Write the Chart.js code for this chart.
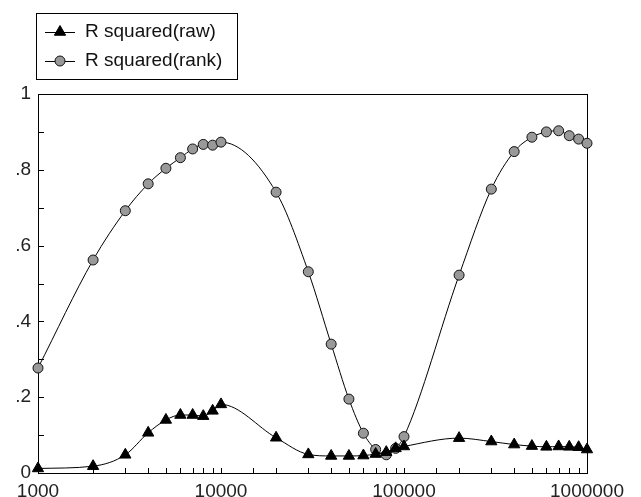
<!DOCTYPE html>
<html>
<head>
<meta charset="utf-8">
<title>R squared</title>
<script src="https://cdn.jsdelivr.net/npm/chart.js@4"></script>
<style>
  html, body { margin: 0; padding: 0; background: #fff; }
</style>
</head>
<body>
<canvas id="myChart" width="641" height="497"></canvas>
<script>
// data
const xValues = [1000, 2000, 3000, 4000, 5000, 6000, 7000, 8000, 9000,
  10000, 20000, 30000, 40000, 50000, 60000, 70000, 80000, 90000,
  100000, 200000, 300000, 400000, 500000, 600000, 700000, 800000, 900000, 1000000];
const rawValues = [0.012, 0.018, 0.048, 0.106, 0.140, 0.153, 0.153, 0.150, 0.164,
  0.181, 0.093, 0.049, 0.045, 0.045, 0.046, 0.050, 0.055, 0.065,
  0.070, 0.092, 0.083, 0.075, 0.071, 0.069, 0.070, 0.069, 0.068, 0.062];
const rankValues = [0.277, 0.562, 0.692, 0.763, 0.804, 0.832, 0.855, 0.867, 0.865,
  0.873, 0.741, 0.531, 0.340, 0.195, 0.105, 0.062, 0.048, 0.065,
  0.096, 0.522, 0.749, 0.848, 0.886, 0.900, 0.903, 0.890, 0.881, 0.870];
const seriesNames = ['R squared(raw)', 'R squared(rank)'];
const xTickLabels = ['1000', '10000', '100000', '1000000'];
const yTickLabels = ['0', '.2', '.4', '.6', '.8', '1'];

const ctx = document.getElementById('myChart');
const tickFont = { family: '"Liberation Sans", Arial, sans-serif', size: 19 };

function toPoints(values) {
  return xValues.map((x, i) => ({ x: x, y: values[i] }));
}

// draw a marker like the dataset's
function marker(c, style, x, y, fill, stroke) {
  c.beginPath();
  if (style === 'triangle') {
    const r = 6.5;
    c.moveTo(x, y - r);
    c.lineTo(x + r * 0.866, y + r * 0.5);
    c.lineTo(x - r * 0.866, y + r * 0.5);
    c.closePath();
  } else {
    c.arc(x, y, 5, 0, Math.PI * 2);
  }
  c.fillStyle = fill;
  c.fill();
  c.strokeStyle = stroke;
  c.lineWidth = 1;
  c.stroke();
}

// box round the plot + inward ticks
const frame = {
  id: 'frame',
  beforeDatasetsDraw(chart) {
    const { ctx: c, chartArea: a, scales } = chart;
    c.save();
    c.strokeStyle = '#000';
    c.lineWidth = 1;
    c.strokeRect(Math.round(a.left) + 0.5, Math.round(a.top) + 0.5,
      Math.round(a.right - a.left), Math.round(a.bottom - a.top));
    c.beginPath();
    scales.y.ticks.forEach(t => {
      const y = Math.round(scales.y.getPixelForValue(t.value)) + 0.5;
      c.moveTo(a.left, y);
      c.lineTo(a.left + 6, y);
    });
    scales.x.ticks.forEach(t => {
      const x = Math.round(scales.x.getPixelForValue(t.value)) + 0.5;
      c.moveTo(x, a.bottom);
      c.lineTo(x, a.bottom - 5);
    });
    c.stroke();
    c.restore();
  }
};

// legend in a box, top left
const boxLegend = {
  id: 'boxLegend',
  afterDraw(chart) {
    const c = chart.ctx;
    c.save();
    c.strokeStyle = '#000';
    c.lineWidth = 1;
    c.strokeRect(36.5, 13.5, 201, 66);
    chart.data.datasets.forEach((ds, i) => {
      const y = 32 + i * 29;
      c.beginPath();
      c.moveTo(45, y + 0.5);
      c.lineTo(75, y + 0.5);
      c.strokeStyle = '#000';
      c.stroke();
      marker(c, ds.pointStyle, 60, y, ds.pointBackgroundColor, ds.pointBorderColor);
      c.fillStyle = '#111';
      c.font = '19px "Liberation Sans", Arial, sans-serif';
      c.textBaseline = 'middle';
      c.fillText(ds.label, 85, y);
    });
    c.restore();
  }
};

new Chart(ctx, {
  type: 'line',
  data: {
    datasets: [
      {
        label: seriesNames[0],
        data: toPoints(rawValues),
        borderColor: '#000',
        borderWidth: 1,
        pointStyle: 'triangle',
        pointRadius: 6.5,
        pointBackgroundColor: '#000',
        pointBorderColor: '#000',
        pointBorderWidth: 1,
        cubicInterpolationMode: 'monotone',
        clip: false
      },
      {
        label: seriesNames[1],
        data: toPoints(rankValues),
        borderColor: '#000',
        borderWidth: 1,
        pointStyle: 'circle',
        pointRadius: 5,
        pointBackgroundColor: '#999',
        pointBorderColor: '#111',
        pointBorderWidth: 1,
        cubicInterpolationMode: 'monotone',
        clip: false
      }
    ]
  },
  options: {
    responsive: false,
    animation: false,
    devicePixelRatio: 1,
    layout: { padding: { top: 94, left: 0, right: 54, bottom: 0 } },
    plugins: {
      legend: { display: false },
      tooltip: { enabled: false }
    },
    scales: {
      x: {
        type: 'logarithmic',
        min: 1000,
        max: 1000000,
        grid: { display: false, drawTicks: false },
        border: { display: false },
        ticks: {
          autoSkip: false,
          maxRotation: 0,
          padding: 7,
          color: '#222',
          font: tickFont,
          callback: value => xTickLabels.find(l => Number(l) === value) || ''
        },
        afterFit: s => { s.height = 24; }
      },
      y: {
        min: 0,
        max: 1,
        grid: { display: false, drawTicks: false },
        border: { display: false },
        ticks: {
          stepSize: 0.1,
          padding: 7,
          color: '#222',
          font: tickFont,
          callback: (value, index) => index % 2 === 0 ? yTickLabels[index / 2] : ''
        },
        afterFit: s => { s.width = 38; }
      }
    }
  },
  plugins: [frame, boxLegend]
});
</script>
</body>
</html>
